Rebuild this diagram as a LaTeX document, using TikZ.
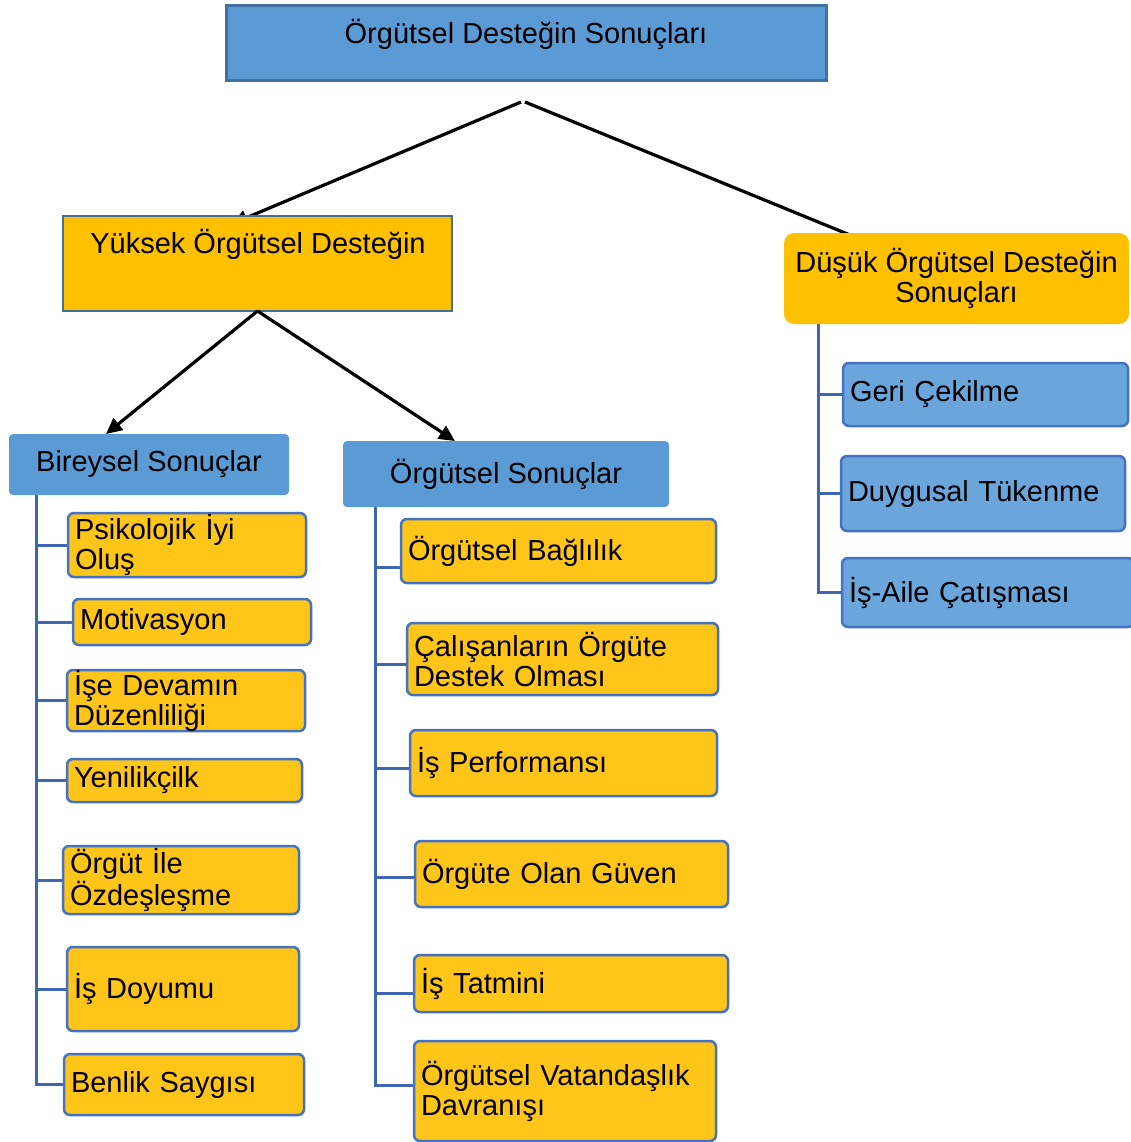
\documentclass[tikz,border=0pt]{standalone}
\usepackage{fontspec}
\setmainfont{Liberation Sans}
\usetikzlibrary{arrows.meta,backgrounds}

\definecolor{ustmavi}{HTML}{5B9BD5}
\definecolor{ustkenar}{HTML}{41719C}
\definecolor{turuncu}{HTML}{FFC000}
\definecolor{sari}{HTML}{FFC519}
\definecolor{kenarmavi}{HTML}{4472C4}
\definecolor{acikmavi}{HTML}{6AA5DB}
\definecolor{agacmavi}{HTML}{3F66B0}

\begin{document}
\begin{tikzpicture}[x=1pt,y=-1pt,
  font=\fontsize{29}{30}\selectfont,
  every node/.style={inner sep=0pt, outer sep=0pt},
  anakutu/.style={anchor=north west, fill=ustmavi, rounded corners=4pt, align=center},
  saribaslik/.style={anchor=north west, fill=turuncu, draw=ustkenar, line width=2.5pt},
  altkutu/.style={anchor=north west, fill=sari, draw=kenarmavi, line width=2.5pt,
                  rounded corners=6pt, align=left, inner xsep=7pt},
  mavikutu/.style={altkutu, fill=acikmavi},
  ok/.style={line width=3.2pt, -{Triangle[length=16pt,width=15pt]}},
  agac/.style={draw=agacmavi, line width=3pt}]

\useasboundingbox (0,0) rectangle (1130,1142);

% top level
\node[anchor=north west, fill=ustmavi, draw=ustkenar, line width=3pt,
      minimum width=600pt, minimum height=75pt] (ust) at (226,6) {};
\node (ustyazi) at (526,34) {Örgütsel Desteğin Sonuçları};
\coordinate (tepe) at (523,102);

% second level
\node[saribaslik, minimum width=389pt, minimum height=95pt] (yuksek) at (63,216) {};
\node (yuksekyazi) at (258,244) {Yüksek Örgütsel Desteğin};
\node[anchor=north west, fill=turuncu, rounded corners=10pt, align=center,
      minimum width=345pt, minimum height=91pt] (dusuk) at (784,233)
      {Düşük Örgütsel Desteğin\\Sonuçları};

% third level
\node[anakutu, minimum width=280pt, minimum height=61pt] (bireysel) at (9,434) {Bireysel Sonuçlar};
\node[anakutu, minimum width=326pt, minimum height=66pt] (orgutsel) at (343,441) {Örgütsel Sonuçlar};

% individual outcomes
\node[altkutu, text width=224pt, minimum height=64pt] (p1) at (68,513) {Psikolojik İyi\\Oluş};
\node[altkutu, text width=224pt, minimum height=46pt] (p2) at (73,599) {Motivasyon};
\node[altkutu, text width=224pt, minimum height=58pt] (p3) at (67,670) {İşe Devamın\\Düzenliliği};
\node[altkutu, text width=221pt, minimum height=43pt] (p4) at (67,759) {Yenilikçilk};
\node[altkutu, text width=222pt, minimum height=68pt] (p5) at (63,846) {Örgüt İle\\Özdeşleşme};
\node[altkutu, text width=218pt, minimum height=84pt] (p6) at (67,947) {İş Doyumu};
\node[altkutu, text width=226pt, minimum height=61pt] (p7) at (64,1054) {Benlik Saygısı};

% organisational outcomes
\node[altkutu, text width=301pt, minimum height=64pt] (o1) at (401,519) {Örgütsel Bağlılık};
\node[altkutu, text width=297pt, minimum height=72pt] (o2) at (407,623) {Çalışanların Örgüte\\Destek Olması};
\node[altkutu, text width=293pt, minimum height=66pt] (o3) at (410,730) {İş Performansı};
\node[altkutu, text width=299pt, minimum height=66pt] (o4) at (415,841) {Örgüte Olan Güven};
\node[altkutu, text width=300pt, minimum height=57pt] (o5) at (414,955) {İş Tatmini};
\node[altkutu, text width=288pt, minimum height=100pt] (o6) at (414,1041) {Örgütsel Vatandaşlık\\Davranışı};

% low-support outcomes
\node[mavikutu, text width=271pt, minimum height=63pt] (d1) at (843,363) {Geri Çekilme};
\node[mavikutu, text width=270pt, minimum height=75pt] (d2) at (841,456) {Duygusal Tükenme};
\node[mavikutu, text width=278pt, minimum height=69pt] (d3) at (842,558) {İş-Aile Çatışması};

% arrows from the second level down
\draw[ok] (yuksek.south) -- ([xshift=-43pt]bireysel.north);
\draw[ok] (yuksek.south) -- ([xshift=-51pt]orgutsel.north);

\begin{pgfonlayer}{background}
  % arrows from the top, ending under the boxes
  \draw[ok] ([xshift=-2pt]tepe) -- ([xshift=-26pt,yshift=-8pt]yuksek.north);
  \draw[line width=3.2pt] ([xshift=2pt]tepe) -- ([xshift=66pt,yshift=-2pt]dusuk.north west);

  % tree connectors
  \foreach \c in {p1,p2,p3,p4,p5,p6,p7}
    \draw[agac] ([xshift=27pt]bireysel.south west) |- (\c.west);
  \draw[agac] ([xshift=32pt]orgutsel.south west) |- ([yshift=-16pt]o1.west);
  \draw[agac] ([xshift=32pt]orgutsel.south west) |- ([yshift=-5pt]o2.west);
  \draw[agac] ([xshift=32pt]orgutsel.south west) |- ([yshift=-5pt]o3.west);
  \draw[agac] ([xshift=32pt]orgutsel.south west) |- ([yshift=-3pt]o4.west);
  \draw[agac] ([xshift=32pt]orgutsel.south west) |- ([yshift=-9.5pt]o5.west);
  \draw[agac] ([xshift=32pt]orgutsel.south west) |- ([yshift=6pt]o6.west);
  \foreach \c in {d1,d2,d3}
    \draw[agac] ([xshift=34pt]dusuk.south west) |- (\c.west);
\end{pgfonlayer}
\end{tikzpicture}
\end{document}
